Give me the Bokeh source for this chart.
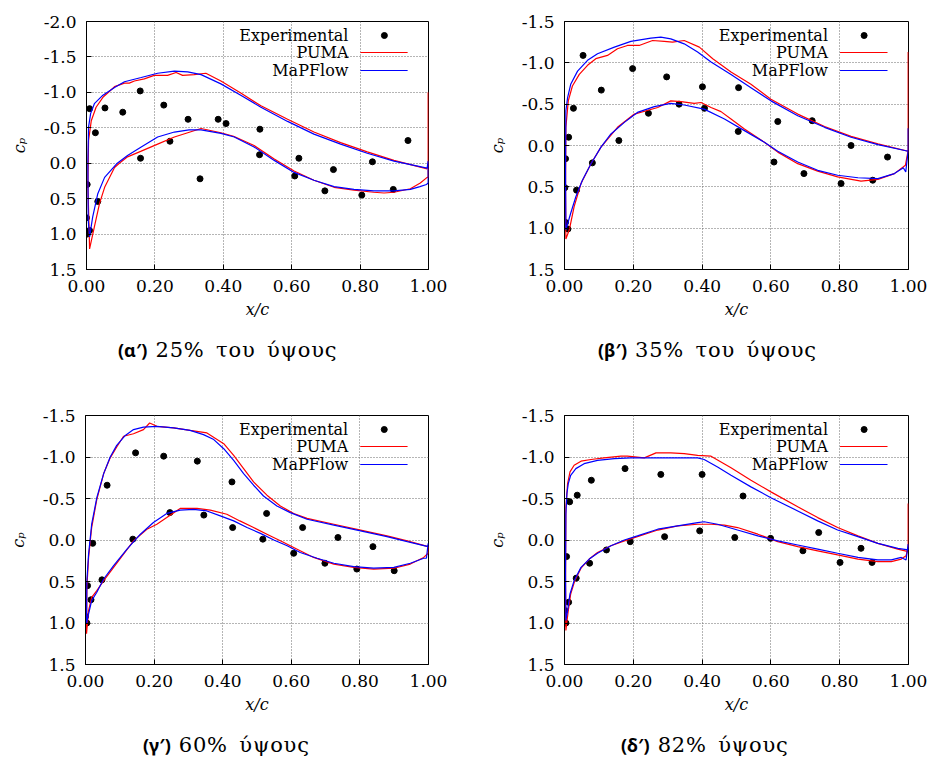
from bokeh.plotting import figure
from bokeh.models import Range1d, FixedTicker, PrintfTickFormatter, Label, Div
from bokeh.layouts import column, row
from bokeh.embed import file_html
from bokeh.resources import INLINE

# ---------------- data ----------------
X_TICKS = [0.0, 0.2, 0.4, 0.6, 0.8, 1.0]
Y_TICKS_A = [-2.0, -1.5, -1.0, -0.5, 0.0, 0.5, 1.0, 1.5]
Y_TICKS = [-1.5, -1.0, -0.5, 0.0, 0.5, 1.0, 1.5]

# (α') 25%
a_exp_x = [0.0, 0.002, 0.002, 0.009, 0.009, 0.026, 0.033, 0.054, 0.106, 0.157, 0.158, 0.226, 0.244, 0.297,
           0.332, 0.385, 0.408, 0.507, 0.506, 0.609, 0.621, 0.697, 0.722, 0.805, 0.836, 0.897, 0.94]
a_exp_cp = [0.77, 0.30, 1.00, 0.95, -0.77, -0.43, 0.54, -0.78, -0.72, -1.02, -0.07, -0.82, -0.31, -0.62,
            0.22, -0.62, -0.56, -0.48, -0.12, 0.18, -0.07, 0.39, 0.09, 0.45, -0.02, 0.37, -0.32]
a_puma_x = [0.996, 0.899, 0.821, 0.743, 0.665, 0.588, 0.51, 0.451, 0.393, 0.349, 0.315, 0.281, 0.262, 0.237,
            0.198, 0.169, 0.14, 0.125, 0.111, 0.082, 0.048, 0.028, 0.014, 0.006, 0.004, 0.008, 0.009,
            0.023, 0.038, 0.053, 0.082, 0.096, 0.12, 0.16, 0.208, 0.257, 0.296, 0.335, 0.393, 0.43, 0.49,
            0.549, 0.607, 0.665, 0.724, 0.782, 0.84, 0.87, 0.899, 0.947, 0.976, 0.996, 0.999, 0.999]
a_puma_cp = [0.08, -0.04, -0.16, -0.29, -0.44, -0.62, -0.81, -0.99, -1.16, -1.27, -1.25, -1.24, -1.28, -1.24,
             -1.24, -1.19, -1.16, -1.13, -1.13, -1.08, -0.93, -0.79, -0.60, -0.32, 0.30, 1.00, 1.21,
             0.90, 0.57, 0.34, 0.06, 0.0, -0.09, -0.17, -0.27, -0.37, -0.43, -0.49, -0.43, -0.38, -0.25,
             -0.06, 0.11, 0.24, 0.34, 0.38, 0.41, 0.42, 0.41, 0.36, 0.28, 0.20, 0.20, -1.00]
a_mf_x = [0.999, 0.996, 0.899, 0.821, 0.743, 0.665, 0.588, 0.51, 0.451, 0.393, 0.335, 0.296, 0.257, 0.208,
          0.16, 0.111, 0.082, 0.048, 0.023, 0.012, 0.006, 0.004, 0.005, 0.009,
          0.018, 0.033, 0.053, 0.09, 0.12, 0.16, 0.208, 0.257, 0.30, 0.335, 0.393, 0.432, 0.49, 0.549,
          0.607, 0.665, 0.724, 0.782, 0.84, 0.899, 0.947, 0.975, 0.994, 0.999, 0.999]
a_mf_cp = [-0.03, 0.07, -0.03, -0.14, -0.27, -0.41, -0.59, -0.79, -0.96, -1.12, -1.25, -1.29, -1.30, -1.27,
           -1.21, -1.15, -1.07, -0.96, -0.84, -0.70, -0.51, 0.0, 0.80, 1.04,
           0.76, 0.43, 0.20, 0.0, -0.11, -0.23, -0.37, -0.44, -0.47, -0.47, -0.42, -0.37, -0.23, -0.04,
           0.13, 0.24, 0.33, 0.37, 0.39, 0.39, 0.37, 0.33, 0.30, 0.28, -0.03]

# (β') 35%
b_exp_x = [0.003, 0.001, 0.003, 0.01, 0.012, 0.026, 0.035, 0.054, 0.081, 0.107, 0.158, 0.198, 0.244, 0.297,
           0.333, 0.401, 0.407, 0.506, 0.505, 0.609, 0.62, 0.696, 0.72, 0.804, 0.833, 0.896, 0.939]
b_exp_cp = [0.16, 0.51, 0.93, 1.01, -0.10, -0.45, 0.54, -1.09, 0.21, -0.67, -0.06, -0.93, -0.39, -0.83,
            -0.50, -0.71, -0.45, -0.70, -0.17, 0.20, -0.29, 0.34, -0.30, 0.46, 0.0, 0.42, 0.14]
b_puma_x = [0.999, 0.911, 0.833, 0.756, 0.678, 0.60, 0.542, 0.484, 0.431, 0.392, 0.348, 0.314, 0.29, 0.256,
            0.217, 0.183, 0.154, 0.125, 0.091, 0.067, 0.043, 0.023, 0.011, 0.004, 0.003, 0.004,
            0.014, 0.028, 0.048, 0.077, 0.106, 0.154, 0.203, 0.271, 0.309, 0.339, 0.377, 0.397, 0.426,
            0.455, 0.484, 0.523, 0.581, 0.62, 0.678, 0.736, 0.794, 0.862, 0.911, 0.959, 0.991, 0.999, 0.999]
b_puma_cp = [0.07, -0.02, -0.11, -0.23, -0.38, -0.56, -0.74, -0.89, -1.05, -1.19, -1.27, -1.25, -1.26, -1.27,
             -1.21, -1.21, -1.17, -1.09, -1.05, -0.97, -0.86, -0.72, -0.54, -0.22, 0.50, 1.13,
             1.02, 0.74, 0.46, 0.22, 0.02, -0.22, -0.38, -0.46, -0.54, -0.53, -0.51, -0.52, -0.46,
             -0.41, -0.32, -0.20, -0.04, 0.08, 0.22, 0.31, 0.38, 0.43, 0.41, 0.34, 0.24, 0.06, -1.13]
b_mf_x = [0.999, 0.999, 0.911, 0.833, 0.756, 0.678, 0.60, 0.542, 0.484, 0.426, 0.387, 0.348, 0.309, 0.28,
          0.251, 0.193, 0.145, 0.096, 0.067, 0.038, 0.018, 0.009, 0.004, 0.003, 0.004,
          0.018, 0.033, 0.052, 0.077, 0.106, 0.135, 0.174, 0.212, 0.261, 0.309, 0.348, 0.406, 0.465,
          0.523, 0.581, 0.62, 0.678, 0.736, 0.794, 0.853, 0.911, 0.959, 0.985, 0.992, 0.999]
b_mf_cp = [-0.21, 0.07, -0.01, -0.10, -0.22, -0.36, -0.54, -0.70, -0.86, -1.01, -1.13, -1.23, -1.29, -1.31,
           -1.30, -1.26, -1.19, -1.11, -1.03, -0.90, -0.74, -0.58, -0.42, 0.30, 1.02,
           0.82, 0.62, 0.42, 0.22, 0.02, -0.14, -0.28, -0.40, -0.47, -0.51, -0.49, -0.44, -0.32,
           -0.18, -0.04, 0.07, 0.20, 0.30, 0.36, 0.39, 0.40, 0.34, 0.27, 0.32, 0.06]

# (γ') 60%
c_exp_x = [0.0, 0.004, 0.006, 0.016, 0.021, 0.048, 0.063, 0.138, 0.146, 0.228, 0.246, 0.326, 0.345, 0.427,
           0.429, 0.517, 0.528, 0.607, 0.633, 0.698, 0.736, 0.791, 0.838, 0.90]
c_exp_cp = [0.92, 1.0, 0.55, 0.72, 0.04, 0.48, -0.66, -0.01, -1.05, -1.01, -0.33, -0.95, -0.30, -0.70,
            -0.15, -0.01, -0.32, 0.16, -0.15, 0.28, -0.03, 0.35, 0.08, 0.37]
c_puma_x = [0.999, 0.938, 0.879, 0.802, 0.724, 0.646, 0.607, 0.568, 0.529, 0.49, 0.461, 0.432, 0.403, 0.354,
            0.305, 0.257, 0.208, 0.187, 0.169, 0.14, 0.111, 0.091, 0.072, 0.053, 0.033, 0.018, 0.009,
            0.004, 0.003,
            0.009, 0.018, 0.033, 0.053, 0.082, 0.14, 0.179, 0.208, 0.237, 0.276, 0.325, 0.364, 0.412,
            0.45, 0.49, 0.529, 0.568, 0.607, 0.665, 0.724, 0.782, 0.84, 0.899, 0.947, 0.986, 0.999, 0.999]
c_puma_cp = [0.08, 0.01, -0.05, -0.12, -0.19, -0.26, -0.32, -0.41, -0.54, -0.70, -0.86, -1.02, -1.16, -1.29,
             -1.32, -1.35, -1.37, -1.41, -1.33, -1.28, -1.25, -1.12, -0.99, -0.80, -0.49, -0.15, 0.21,
             0.57, 1.13,
             0.85, 0.69, 0.61, 0.49, 0.33, 0.01, -0.13, -0.19, -0.27, -0.38, -0.38, -0.36, -0.31,
             -0.23, -0.15, -0.07, 0.01, 0.09, 0.21, 0.29, 0.33, 0.35, 0.34, 0.29, 0.21, 0.16, 0.08]
c_mf_x = [0.999, 0.938, 0.879, 0.802, 0.724, 0.646, 0.597, 0.558, 0.519, 0.49, 0.461, 0.432, 0.403, 0.374,
          0.344, 0.305, 0.257, 0.208, 0.169, 0.14, 0.116, 0.091, 0.072, 0.053, 0.033, 0.018, 0.009,
          0.004, 0.003,
          0.009, 0.018, 0.033, 0.053, 0.082, 0.121, 0.16, 0.198, 0.237, 0.276, 0.315, 0.354, 0.393,
          0.432, 0.471, 0.51, 0.549, 0.588, 0.626, 0.675, 0.724, 0.782, 0.84, 0.899, 0.947, 0.986,
          0.994, 0.999]
c_mf_cp = [0.08, 0.02, -0.04, -0.11, -0.18, -0.25, -0.33, -0.41, -0.53, -0.66, -0.80, -0.96, -1.10, -1.21,
           -1.27, -1.32, -1.35, -1.37, -1.36, -1.33, -1.26, -1.14, -1.00, -0.80, -0.51, -0.19, 0.17,
           0.49, 1.01,
           0.89, 0.73, 0.63, 0.47, 0.31, 0.11, -0.07, -0.21, -0.32, -0.36, -0.37, -0.35, -0.29,
           -0.23, -0.15, -0.08, 0.0, 0.07, 0.15, 0.22, 0.28, 0.32, 0.34, 0.33, 0.28, 0.22,
           0.22, 0.04]

# (δ') 82%
d_exp_x = [0.001, 0.004, 0.006, 0.012, 0.015, 0.034, 0.037, 0.073, 0.078, 0.122, 0.176, 0.191, 0.28, 0.291,
           0.393, 0.40, 0.495, 0.519, 0.599, 0.693, 0.739, 0.801, 0.862, 0.894]
d_exp_cp = [0.85, 1.0, 0.20, 0.75, -0.46, 0.46, -0.54, 0.28, -0.72, 0.12, -0.86, 0.02, -0.79, -0.04,
            -0.11, -0.79, -0.03, -0.53, -0.02, 0.13, -0.09, 0.27, 0.10, 0.27]
d_puma_x = [0.999, 0.969, 0.911, 0.853, 0.794, 0.736, 0.678, 0.60, 0.542, 0.484, 0.426, 0.387, 0.348, 0.309,
            0.266, 0.232, 0.183, 0.164, 0.115, 0.077, 0.048, 0.028, 0.016, 0.009, 0.004, 0.003, 0.004,
            0.011, 0.018, 0.03, 0.048, 0.072, 0.096, 0.135, 0.174, 0.212, 0.271, 0.329, 0.387, 0.426,
            0.465, 0.503, 0.562, 0.62, 0.678, 0.736, 0.794, 0.853, 0.911, 0.95, 0.979, 0.993, 0.999, 0.999]
d_puma_cp = [0.14, 0.11, 0.04, -0.05, -0.15, -0.27, -0.40, -0.58, -0.72, -0.87, -1.01, -1.02, -1.04, -1.05,
             -1.05, -0.99, -1.01, -1.01, -0.99, -0.97, -0.95, -0.90, -0.82, -0.68, -0.39, 0.50, 1.09,
             0.85, 0.65, 0.49, 0.34, 0.23, 0.15, 0.07, 0.01, -0.04, -0.12, -0.17, -0.19, -0.19,
             -0.18, -0.15, -0.07, 0.02, 0.08, 0.13, 0.18, 0.23, 0.26, 0.26, 0.23, 0.19, 0.08, -0.44]
d_mf_x = [0.999, 0.999, 0.969, 0.911, 0.853, 0.794, 0.736, 0.678, 0.60, 0.542, 0.484, 0.445, 0.406, 0.387,
          0.339, 0.29, 0.242, 0.193, 0.145, 0.096, 0.057, 0.033, 0.018, 0.011, 0.007, 0.004, 0.003, 0.004,
          0.009, 0.016, 0.028, 0.048, 0.072, 0.096, 0.135, 0.174, 0.212, 0.271, 0.329, 0.387, 0.406,
          0.445, 0.503, 0.562, 0.62, 0.678, 0.736, 0.794, 0.853, 0.911, 0.95, 0.979, 0.993, 0.999]
d_mf_cp = [0.05, 0.12, 0.10, 0.04, -0.04, -0.12, -0.23, -0.35, -0.51, -0.64, -0.78, -0.88, -0.97, -0.99,
           -0.99, -0.99, -0.99, -0.99, -0.98, -0.96, -0.92, -0.86, -0.78, -0.68, -0.56, -0.31, 0.40, 0.97,
           0.85, 0.65, 0.49, 0.33, 0.23, 0.16, 0.07, 0.0, -0.05, -0.13, -0.17, -0.21, -0.22,
           -0.19, -0.12, -0.05, 0.01, 0.06, 0.11, 0.16, 0.21, 0.24, 0.24, 0.21, 0.24, 0.05]

LEGEND_LABELS = ["Experimental", "PUMA", "MaPFlow"]
CAPTION_TAGS = ["(α′)", "(β′)", "(γ′)", "(δ′)"]
CAPTION_TEXTS = ["25% του ύψους", "35% του ύψους", "60% ύψους", "82% ύψους"]

SERIF = "DejaVu Serif"
RED = "#ff0000"
BLUE = "#0000ff"


def panel(exp_x, exp_cp, puma_x, puma_cp, mf_x, mf_cp, y_top, y_ticks, height, borders):
    bl, br, bt, bb = borders
    p = figure(width=464, height=height, output_backend="svg", toolbar_location=None,
               x_range=Range1d(0, 1), y_range=Range1d(1.5, y_top),
               min_border_left=bl, min_border_right=br, min_border_top=bt, min_border_bottom=bb,
               background_fill_color="white", border_fill_color="white")
    p.outline_line_color = "black"
    p.outline_line_width = 1
    p.outline_line_alpha = 1

    for ax in (p.xaxis[0], p.yaxis[0]):
        ax.major_label_text_font = SERIF
        ax.major_label_text_font_size = "17px"
        ax.major_label_text_color = "black"
        ax.axis_label_text_font = SERIF
        ax.axis_label_text_font_size = "16px"
        ax.axis_label_text_font_style = "italic"
        ax.axis_label_text_color = "black"
        ax.major_tick_in = 5
        ax.major_tick_out = 0
        ax.minor_tick_line_color = None
        ax.major_label_standoff = 10
        ax.axis_line_color = "black"
        ax.major_tick_line_color = "black"
    p.xaxis.ticker = FixedTicker(ticks=X_TICKS)
    p.yaxis.ticker = FixedTicker(ticks=y_ticks)
    p.xaxis.formatter = PrintfTickFormatter(format="%.2f")
    p.yaxis.formatter = PrintfTickFormatter(format="%.1f")
    p.xaxis.axis_label = "x/c"
    p.yaxis.axis_label = "cₚ"
    p.xaxis.axis_label_standoff = 5
    p.yaxis.axis_label_standoff = 12

    p.xgrid.ticker = FixedTicker(ticks=X_TICKS)
    p.ygrid.ticker = FixedTicker(ticks=y_ticks)
    for g in (p.xgrid[0], p.ygrid[0]):
        g.grid_line_color = "#6a6a6a"
        g.grid_line_dash = "1 2"
        g.grid_line_width = 1

    p.scatter(exp_x, exp_cp, size=6, color="black")
    p.line(puma_x, puma_cp, line_color=RED, line_width=1.2)
    p.line(mf_x, mf_cp, line_color=BLUE, line_width=1.2)

    # legend (gnuplot style: text right-aligned, sample on the right)
    span = 1.5 - y_top
    fh = height - bt - bb
    rows = [y_top + off * span / fh for off in (14, 31, 49)]
    for lab, yy in zip(LEGEND_LABELS, rows):
        p.add_layout(Label(x=0.766, y=yy, text=lab, text_align="right", text_baseline="middle",
                           text_font=SERIF, text_font_size="16px", text_color="black"))
    p.scatter([0.871], [rows[0]], size=6, color="black")
    p.segment(x0=[0.801], y0=[rows[1]], x1=[0.939], y1=[rows[1]], line_color=RED, line_width=1.2)
    p.segment(x0=[0.801], y0=[rows[2]], x1=[0.939], y1=[rows[2]], line_color=BLUE, line_width=1.2)
    return p


def caption(tag, text, left, height):
    html = (f'<div style="margin:0;padding:11px 0 0 {left}px;white-space:nowrap;line-height:19px;'
            f'color:black;">'
            f'<b style="font-family:\'Noto Sans\';font-weight:bold;font-size:18px;">{tag}</b>'
            f'<span style="font-family:\'DejaVu Serif\';font-size:21px;letter-spacing:0.8px;'
            f'word-spacing:4px;margin-left:8px;">{text}</span></div>')
    return Div(text=html, width=464, height=height, margin=0)


p1 = panel(a_exp_x, a_exp_cp, a_puma_x, a_puma_cp, a_mf_x, a_mf_cp, -2.0, Y_TICKS_A, 330, (86, 36, 21, 61))
p2 = panel(b_exp_x, b_exp_cp, b_puma_x, b_puma_cp, b_mf_x, b_mf_cp, -1.5, Y_TICKS, 330, (100, 20, 21, 61))
p3 = panel(c_exp_x, c_exp_cp, c_puma_x, c_puma_cp, c_mf_x, c_mf_cp, -1.5, Y_TICKS, 345, (85, 36, 35, 61))
p4 = panel(d_exp_x, d_exp_cp, d_puma_x, d_puma_cp, d_mf_x, d_mf_cp, -1.5, Y_TICKS, 345, (100, 20, 35, 61))

c1 = caption(CAPTION_TAGS[0], CAPTION_TEXTS[0], 118, 50)
c2 = caption(CAPTION_TAGS[1], CAPTION_TEXTS[1], 134, 50)
c3 = caption(CAPTION_TAGS[2], CAPTION_TEXTS[2], 143, 35)
c4 = caption(CAPTION_TAGS[3], CAPTION_TEXTS[3], 157, 35)

layout = column(row(p1, p2, spacing=0), row(c1, c2, spacing=0),
                row(p3, p4, spacing=0), row(c3, c4, spacing=0), spacing=0)
open("out.html", "w").write(file_html(layout, INLINE))
